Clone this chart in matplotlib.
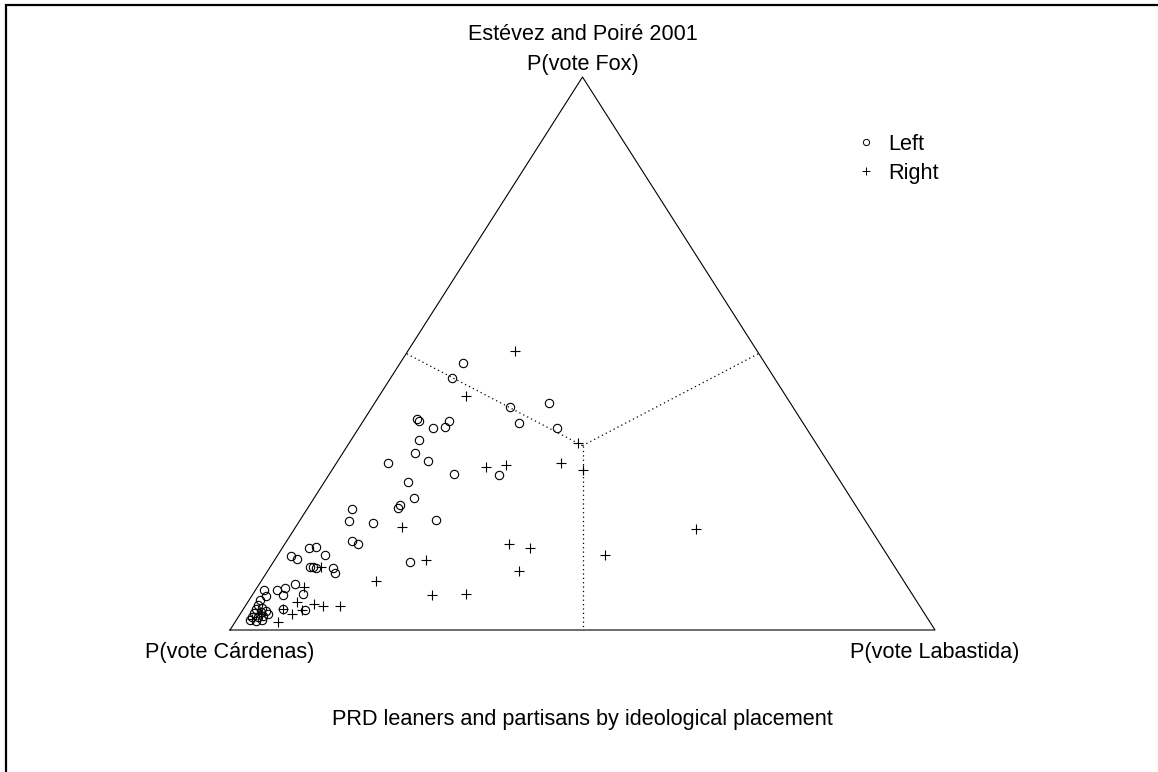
"""
Ternary plot of predicted vote probabilities (Fox / Cárdenas / Labastida)
for PRD leaners and partisans, split by ideological placement.
Output: out.png
"""

import numpy as np
import matplotlib
matplotlib.use("Agg")
import matplotlib.pyplot as plt
from matplotlib.lines import Line2D
from matplotlib.patches import Rectangle

plt.rcParams["font.family"] = ["Liberation Sans", "DejaVu Sans"]
FS = 15.6

# predicted probabilities: P(Fox), P(Labastida); P(Cárdenas) is the remainder
left_fox = [0.483, 0.456, 0.403, 0.410, 0.374, 0.365, 0.382, 0.378, 0.365, 0.378,
            0.367, 0.344, 0.320, 0.306, 0.302, 0.282, 0.280, 0.268, 0.239, 0.226,
            0.221, 0.219, 0.197, 0.193, 0.199, 0.161, 0.156, 0.123, 0.112, 0.103,
            0.148, 0.150, 0.134, 0.128, 0.136, 0.114, 0.114, 0.112, 0.083, 0.072,
            0.076, 0.063, 0.072, 0.061, 0.065, 0.038, 0.036, 0.054, 0.045, 0.038,
            0.040, 0.031, 0.033, 0.034, 0.024, 0.024, 0.025, 0.029, 0.018, 0.016,
            0.018]
left_lab = [0.089, 0.087, 0.195, 0.247, 0.223, 0.282, 0.074, 0.079, 0.106, 0.122,
            0.122, 0.096, 0.102, 0.128, 0.073, 0.177, 0.242, 0.118, 0.142, 0.128,
            0.128, 0.063, 0.071, 0.106, 0.192, 0.092, 0.104, 0.194, 0.090, 0.097,
            0.038, 0.047, 0.020, 0.031, 0.067, 0.056, 0.061, 0.066, 0.050, 0.031,
            0.040, 0.043, 0.012, 0.020, 0.071, 0.056, 0.088, 0.016, 0.017, 0.018,
            0.025, 0.019, 0.027, 0.034, 0.019, 0.028, 0.035, 0.040, 0.019, 0.029,
            0.036]

right_fox = [0.505, 0.423, 0.338, 0.302, 0.289, 0.295, 0.298, 0.186, 0.156, 0.148,
             0.136, 0.183, 0.127, 0.107, 0.089, 0.063, 0.065, 0.114, 0.078, 0.051,
             0.047, 0.043, 0.043, 0.038, 0.029, 0.036, 0.014, 0.020, 0.029]
right_lab = [0.152, 0.123, 0.325, 0.319, 0.356, 0.215, 0.242, 0.151, 0.318, 0.352,
             0.464, 0.570, 0.215, 0.357, 0.162, 0.255, 0.302, 0.072, 0.066, 0.069,
             0.095, 0.110, 0.134, 0.056, 0.073, 0.084, 0.061, 0.021, 0.029]


def to_xy(p_fox, p_lab):
    # Cárdenas at (0,0), Labastida at (1,0), Fox at (0.5,1)
    p_fox = np.asarray(p_fox)
    p_lab = np.asarray(p_lab)
    return p_lab + 0.5 * p_fox, p_fox


W, H = 1158, 772
fig = plt.figure(figsize=(W / 100, H / 100), dpi=100, facecolor="white")
ax = fig.add_axes([230 / W, (H - 630) / H, 705 / W, 553 / H])
ax.set_xlim(0, 1)
ax.set_ylim(0, 1)
ax.axis("off")

# triangle outline
ax.plot([0, 1, 0.5, 0], [0, 0, 1, 0], color="black", lw=0.8, clip_on=False)

# dotted boundaries where each candidate is most likely
cx, cy = to_xy(1 / 3, 1 / 3)
for mx, my in [(0.25, 0.5), (0.75, 0.5), (0.5, 0.0)]:
    ax.plot([cx, mx], [cy, my], color="black", lw=0.9, ls=(0, (1, 2.5)), clip_on=False)

lx, ly = to_xy(left_fox, left_lab)
rx, ry = to_xy(right_fox, right_lab)
ax.plot(lx, ly, "o", mfc="none", mec="black", ms=6, mew=0.8, ls="none", clip_on=False)
ax.plot(rx, ry, "+", color="black", ms=7.5, mew=0.8, ls="none", clip_on=False)

handles = [
    Line2D([], [], marker="o", mfc="none", mec="black", ms=4.5, mew=0.7, ls="none"),
    Line2D([], [], marker="+", color="black", ms=5.5, mew=0.7, ls="none"),
]
ax.legend(handles, ["Left", "Right"], loc="upper left",
          bbox_to_anchor=((844 - 230) / 705, (630 - 123) / 553),
          frameon=False, fontsize=FS, handlelength=1.0, handletextpad=0.55,
          labelspacing=0.37, borderpad=0)

# labels
ax.text(0.5, 1.076, "Estévez and Poiré 2001", ha="center", va="center", fontsize=FS)
ax.text(0.5, 1.0235, "P(vote Fox)", ha="center", va="center", fontsize=FS)
ax.text(0.0, -0.040, "P(vote Cárdenas)", ha="center", va="center", fontsize=FS)
ax.text(1.0, -0.040, "P(vote Labastida)", ha="center", va="center", fontsize=FS)
ax.text(0.5, -0.161, "PRD leaners and partisans by ideological placement",
        ha="center", va="center", fontsize=FS)

# outer frame, open to the right and bottom
fig.add_artist(Rectangle((5.5 / W, -0.1), 1.2, (H - 5.0) / H + 0.1,
                         transform=fig.transFigure, fill=False,
                         edgecolor="black", lw=1.6))

fig.savefig("out.png", dpi=100, facecolor="white")
